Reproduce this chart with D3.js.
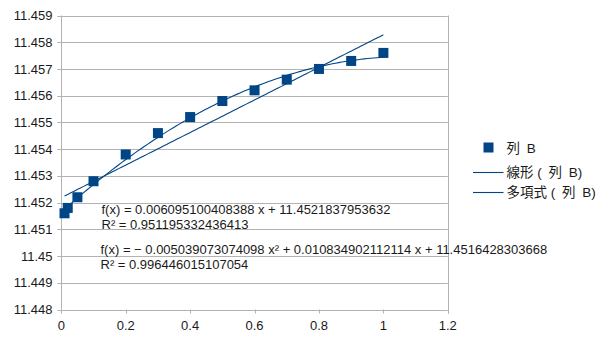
<!DOCTYPE html>
<html><head><meta charset="utf-8">
<script src="https://cdn.jsdelivr.net/npm/d3@7"></script>
<style>
html,body{margin:0;padding:0;background:#fff;}
svg{display:block;font-family:"Liberation Sans",Arial,sans-serif;}
</style></head>
<body>
<svg id="chart" width="605" height="340"></svg>
<script>
const xValues = [0.01, 0.02, 0.05, 0.1, 0.2, 0.3, 0.4, 0.5, 0.6, 0.7, 0.8, 0.9, 1.0];
const yValues = [11.4516, 11.4518, 11.4522, 11.4528, 11.4538, 11.4546, 11.4552, 11.4558, 11.4562, 11.4566, 11.4570, 11.4573, 11.4576];
const yTicks = [11.448, 11.449, 11.45, 11.451, 11.452, 11.453, 11.454, 11.455, 11.456, 11.457, 11.458, 11.459];
const xTicks = [0, 0.2, 0.4, 0.6, 0.8, 1, 1.2];
const linearCoef = [11.4521837953632, 0.006095100408388];           // c0, c1
const polyCoef = [11.4516428303668, 0.010834902112114, -0.005039073074098]; // c0, c1, c2
const eqTexts = [
  "f(x) = 0.006095100408388 x + 11.4521837953632",
  "R² = 0.951195332436413",
  "f(x) = − 0.005039073074098 x² + 0.010834902112114 x + 11.4516428303668",
  "R² = 0.996446015107054"
];
const legendLabels = ["列\u2002B", "線形 (\u2002列\u2002B)", "多項式 (\u2002列\u2002B)"];

const color = "#004586";
const gridColor = "#b3b3b3";
const svg = d3.select("#chart");
const x = d3.scaleLinear().domain([0, 1.2]).range([61.3, 447.8]);
const y = d3.scaleLinear().domain([11.448, 11.459]).range([309.5, 15.5]);

// gridlines
svg.append("g").selectAll("line").data(yTicks).join("line")
  .attr("x1", x(0) - 4).attr("x2", x(1.2))
  .attr("y1", d => Math.round(y(d)) + 0.5).attr("y2", d => Math.round(y(d)) + 0.5)
  .attr("stroke", gridColor).attr("stroke-width", 1);
// axes lines
svg.append("line").attr("x1", Math.round(x(0)) + 0.5).attr("x2", Math.round(x(0)) + 0.5)
  .attr("y1", y(11.459)).attr("y2", y(11.448)).attr("stroke", gridColor);
svg.append("line").attr("x1", Math.round(x(1.2)) + 0.5).attr("x2", Math.round(x(1.2)) + 0.5)
  .attr("y1", y(11.459)).attr("y2", y(11.448) + 4).attr("stroke", gridColor);
svg.append("g").selectAll("line").data(xTicks).join("line")
  .attr("x1", d => Math.round(x(d)) + 0.5).attr("x2", d => Math.round(x(d)) + 0.5)
  .attr("y1", y(11.448)).attr("y2", y(11.448) + 4).attr("stroke", gridColor);

// y labels
svg.append("g").selectAll("text").data(yTicks).join("text")
  .attr("x", 52.5).attr("y", d => y(d) + 4.6)
  .attr("text-anchor", "end").attr("font-size", 13).attr("fill", "#1a1a1a")
  .text(d => d3.format("")(+d.toFixed(3)));
// x labels
svg.append("g").selectAll("text").data(xTicks).join("text")
  .attr("x", d => x(d)).attr("y", 329.5)
  .attr("text-anchor", "middle").attr("font-size", 13).attr("fill", "#1a1a1a")
  .text(d => String(d));

// trendlines
const xmin = d3.min(xValues), xmax = d3.max(xValues);
const samples = d3.range(0, 101).map(i => xmin + (xmax - xmin) * i / 100);
const lin = v => linearCoef[0] + linearCoef[1] * v;
const poly = v => polyCoef[0] + polyCoef[1] * v + polyCoef[2] * v * v;
const lineGen = f => d3.line().x(d => x(d)).y(d => y(f(d)));
svg.append("path").attr("d", lineGen(lin)(samples))
  .attr("fill", "none").attr("stroke", color).attr("stroke-width", 1.1);
svg.append("path").attr("d", lineGen(poly)(samples))
  .attr("fill", "none").attr("stroke", color).attr("stroke-width", 1.1);

// markers
const ms = 10;
svg.append("g").selectAll("rect").data(xValues.map((v, i) => [v, yValues[i]])).join("rect")
  .attr("x", d => x(d[0]) - ms / 2).attr("y", d => y(d[1]) - ms / 2)
  .attr("width", ms).attr("height", ms).attr("fill", color);

// equation texts
const eqY = [213.5, 228.5, 253.5, 268.5];
svg.append("g").selectAll("text").data(eqTexts).join("text")
  .attr("x", (d, i) => i < 2 ? 101.5 : 100.5).attr("y", (d, i) => eqY[i])
  .attr("font-size", 13).attr("fill", "#1a1a1a")
  .text(d => d);

// legend
const lg = svg.append("g");
lg.append("rect").attr("x", 483.5).attr("y", 142.5).attr("width", ms).attr("height", ms).attr("fill", color);
[172.5, 192.5].forEach(ly => {
  lg.append("line").attr("x1", 473).attr("x2", 503.5).attr("y1", ly).attr("y2", ly)
    .attr("stroke", color).attr("stroke-width", 1.1);
});
const legY = [152.5, 177, 197];
lg.selectAll("text").data(legendLabels).join("text")
  .attr("x", 506.5).attr("y", (d, i) => legY[i])
  .attr("font-size", 13.5).attr("fill", "#1a1a1a")
  .attr("font-family", "'Liberation Sans','Noto Sans CJK JP',sans-serif")
  .text(d => d);
</script>
</body></html>
